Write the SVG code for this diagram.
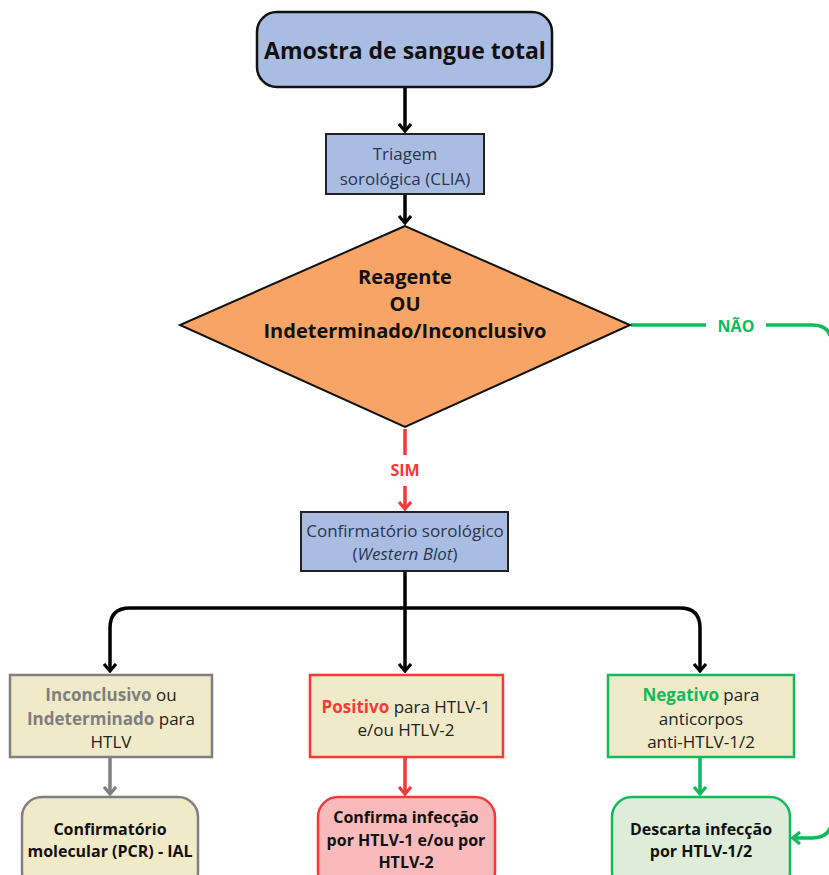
<svg xmlns="http://www.w3.org/2000/svg" width="829" height="875" viewBox="0 0 829 875">
<style>
text{font-family:"Open Sans","Noto Sans","Liberation Sans",sans-serif;text-anchor:middle;fill:#222}
.b{font-weight:bold}
.c{stroke-width:3.5;fill:none;stroke-linecap:butt}
.k{stroke:#000}.r{stroke:#f23a3a}.g{stroke:#10b95a}.y{stroke:#7f7f7f}
.t{font-size:17px}
.f{font-size:16px;font-weight:bold;fill:#111}
</style>
<defs>
<marker id="ak" viewBox="0 0 10 14" refX="8" refY="7" markerWidth="10" markerHeight="14" markerUnits="userSpaceOnUse" orient="auto"><path d="M1 1 L8 7 L1 13" fill="none" stroke="#000" stroke-width="3.2"/></marker>
<marker id="ar" viewBox="0 0 10 14" refX="8" refY="7" markerWidth="10" markerHeight="14" markerUnits="userSpaceOnUse" orient="auto"><path d="M1 1 L8 7 L1 13" fill="none" stroke="#f23a3a" stroke-width="3.2"/></marker>
<marker id="ag" viewBox="0 0 10 14" refX="8" refY="7" markerWidth="10" markerHeight="14" markerUnits="userSpaceOnUse" orient="auto"><path d="M1 1 L8 7 L1 13" fill="none" stroke="#10b95a" stroke-width="3.2"/></marker>
<marker id="ay" viewBox="0 0 10 14" refX="8" refY="7" markerWidth="10" markerHeight="14" markerUnits="userSpaceOnUse" orient="auto"><path d="M1 1 L8 7 L1 13" fill="none" stroke="#7f7f7f" stroke-width="3.2"/></marker>
</defs>
<rect width="829" height="875" fill="#fff"/>
<g id="connectors">
<path class="c k" d="M405 88 V131" marker-end="url(#ak)"/>
<path class="c k" d="M405 195 V223" marker-end="url(#ak)"/>
<path class="c g" d="M631 325 H706 M766 325 H812 Q832 325 832 345 V818 Q832 838 812 838 H793" marker-end="url(#ag)"/>
<path class="c r" d="M405 429 V455"/>
<path class="c r" d="M405 486 V509" marker-end="url(#ar)"/>
<path class="c k" d="M405 572 V671" marker-end="url(#ak)"/>
<path class="c k" d="M405 608 H130 Q110 608 110 628 V671" marker-end="url(#ak)"/>
<path class="c k" d="M405 608 H680 Q700 608 700 628 V671" marker-end="url(#ak)"/>
<path class="c y" d="M110 758 V794" marker-end="url(#ay)"/>
<path class="c r" d="M405 758 V794" marker-end="url(#ar)"/>
<path class="c g" d="M700 758 V794" marker-end="url(#ag)"/>
</g>
<g id="labels">
<text x="736" y="332" class="b" font-size="16" style="fill:#10b95a">NÃO</text>
<text x="405" y="476" class="b" font-size="16" style="fill:#f23a3a">SIM</text>
</g>
<g id="start">
<rect x="257" y="12" width="295" height="75" rx="20" fill="#a9bde3" stroke="#111" stroke-width="2.5"/>
<text x="405" y="59" class="b" font-size="23" style="fill:#111">Amostra de sangue total</text>
</g>
<g id="triagem">
<rect x="326" y="134" width="158" height="60" fill="#a9bde3" stroke="#222" stroke-width="2"/>
<text x="405" y="160" class="t" style="fill:#2a3550">Triagem</text>
<text x="405" y="185" class="t" style="fill:#2a3550">sorológica (CLIA)</text>
</g>
<g id="decisao">
<polygon points="405,226 180,325 405,427 630,325" fill="#f8a466" stroke="#111" stroke-width="2"/>
<text x="405" y="284" class="b" font-size="20" style="fill:#111">Reagente</text>
<text x="405" y="311" class="b" font-size="20" style="fill:#111">OU</text>
<text x="405" y="338" class="b" font-size="20" style="fill:#111">Indeterminado/Inconclusivo</text>
</g>
<g id="wb">
<rect x="301" y="512" width="207" height="59" fill="#a9bde3" stroke="#222" stroke-width="2"/>
<text x="405" y="537" class="t" style="fill:#2a3550">Confirmatório sorológico</text>
<text x="405" y="560" class="t" style="fill:#2a3550">(<tspan font-style="italic">Western Blot</tspan>)</text>
</g>
<g id="inconclusivo">
<rect x="10" y="675" width="202" height="82" fill="#f1eac9" stroke="#7f7f7f" stroke-width="2.5"/>
<text x="111" y="701" class="t"><tspan class="b" style="fill:#7f7f7f">Inconclusivo</tspan> ou</text>
<text x="111" y="725" class="t"><tspan class="b" style="fill:#7f7f7f">Indeterminado</tspan> para</text>
<text x="111" y="748" class="t">HTLV</text>
</g>
<g id="positivo">
<rect x="310" y="675" width="193" height="82" fill="#f1eac9" stroke="#f23a3a" stroke-width="2.5"/>
<text x="406" y="713" class="t"><tspan class="b" style="fill:#f23a3a">Positivo</tspan> para HTLV-1</text>
<text x="406" y="736" class="t">e/ou HTLV-2</text>
</g>
<g id="negativo">
<rect x="608" y="675" width="186" height="82" fill="#f1eac9" stroke="#10b95a" stroke-width="2.5"/>
<text x="701" y="701" class="t"><tspan class="b" style="fill:#10b95a">Negativo</tspan> para</text>
<text x="701" y="725" class="t">anticorpos</text>
<text x="701" y="748" class="t">anti-HTLV-1/2</text>
</g>
<g id="pcr">
<rect x="22" y="797" width="176" height="95" rx="20" fill="#f1eac9" stroke="#7f7f7f" stroke-width="2.5"/>
<text x="110" y="835" class="f">Confirmatório</text>
<text x="110" y="857" class="f">molecular (PCR) - IAL</text>
</g>
<g id="confirma">
<rect x="318" y="797" width="177" height="95" rx="20" fill="#f8baba" stroke="#f23a3a" stroke-width="2.5"/>
<text x="406" y="823" class="f">Confirma infecção</text>
<text x="406" y="846" class="f">por HTLV-1 e/ou por</text>
<text x="406" y="868" class="f">HTLV-2</text>
</g>
<g id="descarta">
<rect x="612" y="797" width="178" height="95" rx="20" fill="#deedd9" stroke="#10b95a" stroke-width="2.5"/>
<text x="701" y="835" class="f">Descarta infecção</text>
<text x="701" y="857" class="f">por HTLV-1/2</text>
</g>
</svg>
